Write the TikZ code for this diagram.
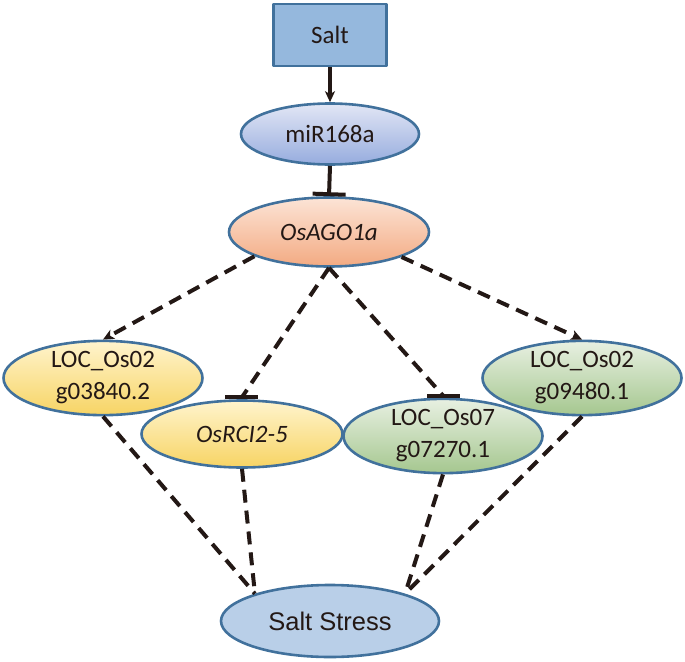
\documentclass[tikz,border=0pt]{standalone}
\usepackage{fontspec}
\setmainfont{Carlito}
\newfontfamily\arialfont{Liberation Sans}
\usetikzlibrary{shapes.geometric,arrows.meta}
\definecolor{ink}{HTML}{231815}
\definecolor{rim}{HTML}{41719C}
\begin{document}
\begin{tikzpicture}[x=1pt, y=-1pt, font=\fontsize{25}{32}\selectfont, text=ink,
		line join=round, >={Stealth[length=11pt,width=10pt,inset=3pt]},
		oval/.style={ellipse, draw=rim, line width=2.6pt, inner sep=0pt, align=center},
		link/.style={draw=ink, line width=4pt, dash pattern=on 13pt off 8pt},
		stop/.style={-{Bar[width=33pt]}},
		barline/.style={draw=ink, line width=4pt}]
	\useasboundingbox (0,0) rectangle (685,661);
	\node[rectangle, draw=rim, line width=2.6pt, fill={rgb,255:red,149;green,184;blue,221}, minimum width=113pt, minimum height=62pt] (salt) at (330,35) {Salt};
	\node[oval, top color={rgb,255:red,226;green,230;blue,245}, bottom color={rgb,255:red,150;green,172;blue,222}, minimum width=178pt, minimum height=61pt] (mir) at (330,134) {miR168a};
	\node[oval, top color={rgb,255:red,252;green,228;blue,214}, bottom color={rgb,255:red,243;green,170;blue,130}, minimum width=200pt, minimum height=69pt] (ago) at (329,232) {\itshape OsAGO1a};
	\node[oval, top color={rgb,255:red,255;green,244;blue,205}, bottom color={rgb,255:red,247;green,212;blue,100}, minimum width=199pt, minimum height=68pt] (loca) at (103,378) {LOC\_Os02\\g03840.2};
	\node[oval, top color={rgb,255:red,255;green,244;blue,205}, bottom color={rgb,255:red,247;green,212;blue,100}, minimum width=201pt, minimum height=67pt] (rci) at (242,434) {\itshape OsRCI2-5};
	\node[oval, top color={rgb,255:red,232;green,240;blue,226}, bottom color={rgb,255:red,165;green,199;blue,143}, minimum width=199pt, minimum height=67pt] (locc) at (443,436) {LOC\_Os07\\g07270.1};
	\node[oval, top color={rgb,255:red,232;green,240;blue,226}, bottom color={rgb,255:red,165;green,199;blue,143}, minimum width=199pt, minimum height=68pt] (locb) at (582,378) {LOC\_Os02\\g09480.1};
	\node[oval, fill={rgb,255:red,185;green,207;blue,232}, minimum width=218pt, minimum height=72pt, font=\arialfont\fontsize{25.5}{30}\selectfont] (stress) at (330,621) {Salt Stress};
	% salt -> miR168a -| OsAGO1a
	\draw[->, draw=ink, line width=4pt] (salt.south) -- (mir.north);
	\draw[stop, draw=ink, line width=4pt] (mir.south) -- (ago.north);
	% OsAGO1a targets
	\draw[link, ->] (ago.198) -- (loca.north);
	\draw[link] (ago.south) -- ([yshift=2pt]rci.north);
	\draw[barline] ([xshift=-17pt,yshift=2pt]rci.north) -- ([xshift=16pt,yshift=2pt]rci.north);
	\draw[link] (ago.south) -- ([yshift=2pt]locc.north);
	\draw[barline] ([xshift=-16pt,yshift=2pt]locc.north) -- ([xshift=17pt,yshift=2pt]locc.north);
	\draw[link, ->] (ago.341) -- (locb.north);
	% targets to salt stress
	\draw[link] (loca.south) -- (stress.160);
	\draw[link] (rci.south) -- (stress.160);
	\draw[link] (locc.south) -- (stress.20);
	\draw[link] (locb.south) -- (stress.20);
\end{tikzpicture}
\end{document}
